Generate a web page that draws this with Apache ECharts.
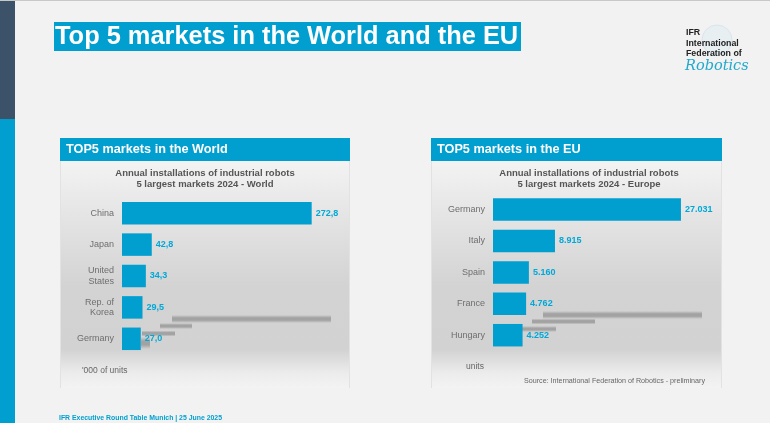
<!DOCTYPE html>
<html><head><meta charset="utf-8">
<style>html,body{margin:0;padding:0;background:#f2f2f2}#c{width:770px;height:423px}</style>
<script src="https://cdn.jsdelivr.net/npm/echarts@6/dist/echarts.min.js"></script>
</head><body><div id="c"></div>
<script>
const worldCategories = ['China','Japan','United\nStates','Rep. of\nKorea','Germany'];
const worldValues = [272.8,42.8,34.3,29.5,27.0];
const worldLabels = ['272,8','42,8','34,3','29,5','27,0'];
const euCategories = ['Germany','Italy','Spain','France','Hungary'];
const euValues = [27031,8915,5160,4762,4252];
const euLabels = ['27.031','8.915','5.160','4.762','4.252'];

const BLUE='#009fd0', FONT='"Liberation Sans",Arial,sans-serif';
const chart = echarts.init(document.getElementById('c'),null,{renderer:'canvas'});
const rect=(x,y,w,h,fill,extra={})=>({type:'rect',z:0,silent:true,shape:{x,y,width:w,height:h},style:Object.assign({fill},extra)});
const txt=(x,y,text,font,fill,align='left',z=5)=>({type:'text',z,silent:true,x,y,style:{text,font,fill,align,verticalAlign:'middle'}});
const panelGrad=new echarts.graphic.LinearGradient(0,0,0,1,[
 {offset:0,color:'#f3f3f3'},{offset:.25,color:'#e4e4e4'},{offset:.55,color:'#d3d3d3'},{offset:.83,color:'#d2d2d2'},{offset:.93,color:'#ebebeb'},{offset:1,color:'#f3f3f3'}]);
const shadeGrad=new echarts.graphic.LinearGradient(0,0,0,1,[
 {offset:0,color:'rgba(130,130,130,0)'},{offset:.35,color:'rgba(130,130,130,0.6)'},{offset:.65,color:'rgba(130,130,130,0.6)'},{offset:1,color:'rgba(130,130,130,0)'}]);
const shade=(x,y,w,h)=>rect(x,y,w,h,shadeGrad);
const panel=(x,w,title)=>[
 rect(x,161,w,227,panelGrad),
 rect(x,161,1,227,'#e2e2e2'),rect(x+w-1,161,1,227,'#e2e2e2'),
 rect(x,138,w,23,BLUE),
 txt(x+6,149,title,'bold 12.7px '+FONT,'#ffffff')
];
const graphic=[
 rect(0,0,770,1,'#c8c8c8'),
 rect(0,1,15,118,'#3b5269'),
 rect(0,119,15,304,BLUE),
 rect(54,22,467,29,BLUE),
 txt(55,37,'Top 5 markets in the World and the EU','bold 25.4px '+FONT,'#ffffff'),
 ...panel(60,290,'TOP5 markets in the World'),
 ...panel(431,291,'TOP5 markets in the EU'),
 shade(172,315,159,8),shade(160,323,32,6),shade(142,330.5,33,6),shade(141,337,9,12),
 shade(543,311,159,8),shade(532,318.5,63,6),shade(522,326,34,6),
 txt(82,371,"'000 of units",'8.5px '+FONT,'#666666'),
 txt(466,367,'units','8.5px '+FONT,'#666666'),
 txt(524,381,'Source: International Federation of Robotics - preliminary','7.15px '+FONT,'#666666'),
 txt(59,418,'IFR Executive Round Table Munich | 25 June 2025','bold 6.9px '+FONT,BLUE),
 {type:'circle',z:0,silent:true,shape:{cx:717,cy:40,r:15},style:{fill:'#e8eff3',stroke:'#d8e5ec',lineWidth:1}},
 txt(686,33,'IFR','bold 8.8px '+FONT,'#222222'),
 txt(686,44,'International','bold 8.8px '+FONT,'#222222'),
 txt(686,54,'Federation of','bold 8.8px '+FONT,'#222222'),
 txt(685,66,'Robotics','italic 14.5px "DejaVu Serif",serif','#22a9cc')
];
const titleStyle={fontFamily:FONT,fontSize:9.5,fontWeight:'bold',color:'#555555',lineHeight:11};
const series=(i,vals,labels)=>({type:'bar',xAxisIndex:i,yAxisIndex:i,data:vals,barWidth:22.5,z:3,
 itemStyle:{color:BLUE},
 label:{show:true,position:'right',distance:4,fontFamily:FONT,fontSize:9,fontWeight:'bold',color:'#00a8d8',
   formatter:p=>labels[p.dataIndex]}});
const xAx=(i,max)=>({type:'value',gridIndex:i,min:0,max,show:false});
const yAx=(i,cats)=>({type:'category',gridIndex:i,data:cats,inverse:true,
 axisLine:{show:false},axisTick:{show:false},
 axisLabel:{margin:8,fontFamily:FONT,fontSize:9,color:'#6e6e6e',lineHeight:10.5,interval:0}});
chart.setOption({
 animation:false,backgroundColor:'#f2f2f2',
 title:[
  {text:'Annual installations of industrial robots\n5 largest markets 2024 - World',left:205,top:168,padding:0,textAlign:'center',textStyle:titleStyle},
  {text:'Annual installations of industrial robots\n5 largest markets 2024 - Europe',left:589,top:168,padding:0,textAlign:'center',textStyle:titleStyle}
 ],
 grid:[{left:122,top:197.5,width:208.6,height:157},{left:493,top:193.9,width:208.6,height:157}],
 xAxis:[xAx(0,300),xAx(1,30000)],
 yAxis:[yAx(0,worldCategories),yAx(1,euCategories)],
 series:[series(0,worldValues,worldLabels),series(1,euValues,euLabels)],
 graphic:{elements:graphic}
});
</script></body></html>
